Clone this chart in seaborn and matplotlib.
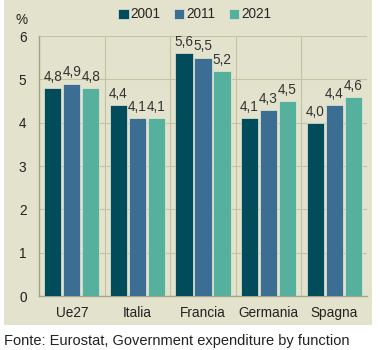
import numpy as np
import pandas as pd
import matplotlib.pyplot as plt
import seaborn as sns
from matplotlib.patches import Rectangle

countries = ['Ue27', 'Italia', 'Francia', 'Germania', 'Spagna']
years = ['2001', '2011', '2021']
v2001 = [4.8, 4.4, 5.6, 4.1, 4.0]
v2011 = [4.9, 4.1, 5.5, 4.3, 4.4]
v2021 = [4.8, 4.1, 5.2, 4.5, 4.6]

colors = ['#004c5a', '#3c6e93', '#55b09d']
bg = '#e3e2cc'
grid_c = '#c4c2a2'
axis_c = '#a5a385'

df = pd.DataFrame({
    'paese': countries * 3,
    'anno': [y for y in years for _ in countries],
    'valore': v2001 + v2011 + v2021,
})

sns.set_style('white')
plt.rcParams['font.family'] = ['Liberation Sans', 'DejaVu Sans']

fig = plt.figure(figsize=(3.8, 3.5), dpi=100)
fig.patches.append(Rectangle((4 / 380, 1 - 325 / 350), 368 / 380, 325 / 350,
                             transform=fig.transFigure, facecolor=bg,
                             edgecolor='none', zorder=-10))
ax = fig.add_axes([39 / 380, 1 - 296 / 350, 328 / 380, 260 / 350])
ax.set_facecolor(bg)

sns.barplot(data=df, x='paese', y='valore', hue='anno', palette=colors,
            saturation=1, width=0.87, gap=0.1, edgecolor='#e8e8d8', linewidth=0.5,
            ax=ax, legend=True, zorder=3)

for cont in ax.containers:
    labels = [f'{b.get_height():.1f}'.replace('.', ',') for b in cont]
    ax.bar_label(cont, labels=labels, padding=3, fontsize=9.8, color='#333333')

ax.set_ylim(0, 6)
ax.set_xlim(-0.5, 4.5)
ax.set_yticks(range(0, 7))
ax.yaxis.grid(True, color=grid_c, lw=0.8, zorder=0)
for xb in np.arange(0.5, 4.5, 1):
    ax.axvline(xb, color=grid_c, lw=0.8, zorder=0)
ax.set_xlabel('')
ax.set_ylabel('')
ax.tick_params(axis='y', length=3, color=axis_c, labelsize=9.8, labelcolor='#222222', pad=6)
ax.tick_params(axis='x', length=0, labelsize=9.8, labelcolor='#222222', pad=7)
ax.set_xticks(range(5))
ax.set_xticks(np.arange(-0.5, 5, 1), minor=True)
ax.tick_params(axis='x', which='minor', length=4, color=axis_c)
for s in ['top', 'right']:
    ax.spines[s].set_visible(False)
for s in ['left', 'bottom']:
    ax.spines[s].set_color(axis_c)
    ax.spines[s].set_linewidth(1)

ax.legend(loc='lower center', bbox_to_anchor=(0.475, 1.035), ncol=3, frameon=False,
          fontsize=9.8, handlelength=0.75, handleheight=0.75, handletextpad=0.15,
          columnspacing=1.0, borderaxespad=0)

fig.text(22 / 380, 1 - 20 / 350, '%', fontsize=9.8, color='#222222', ha='center', va='center')
fig.text(4 / 380, 1 - 341 / 350, 'Fonte: Eurostat, Government expenditure by function',
         fontsize=10.5, color='#222222', ha='left', va='center')

fig.savefig('out.png', dpi=100)
